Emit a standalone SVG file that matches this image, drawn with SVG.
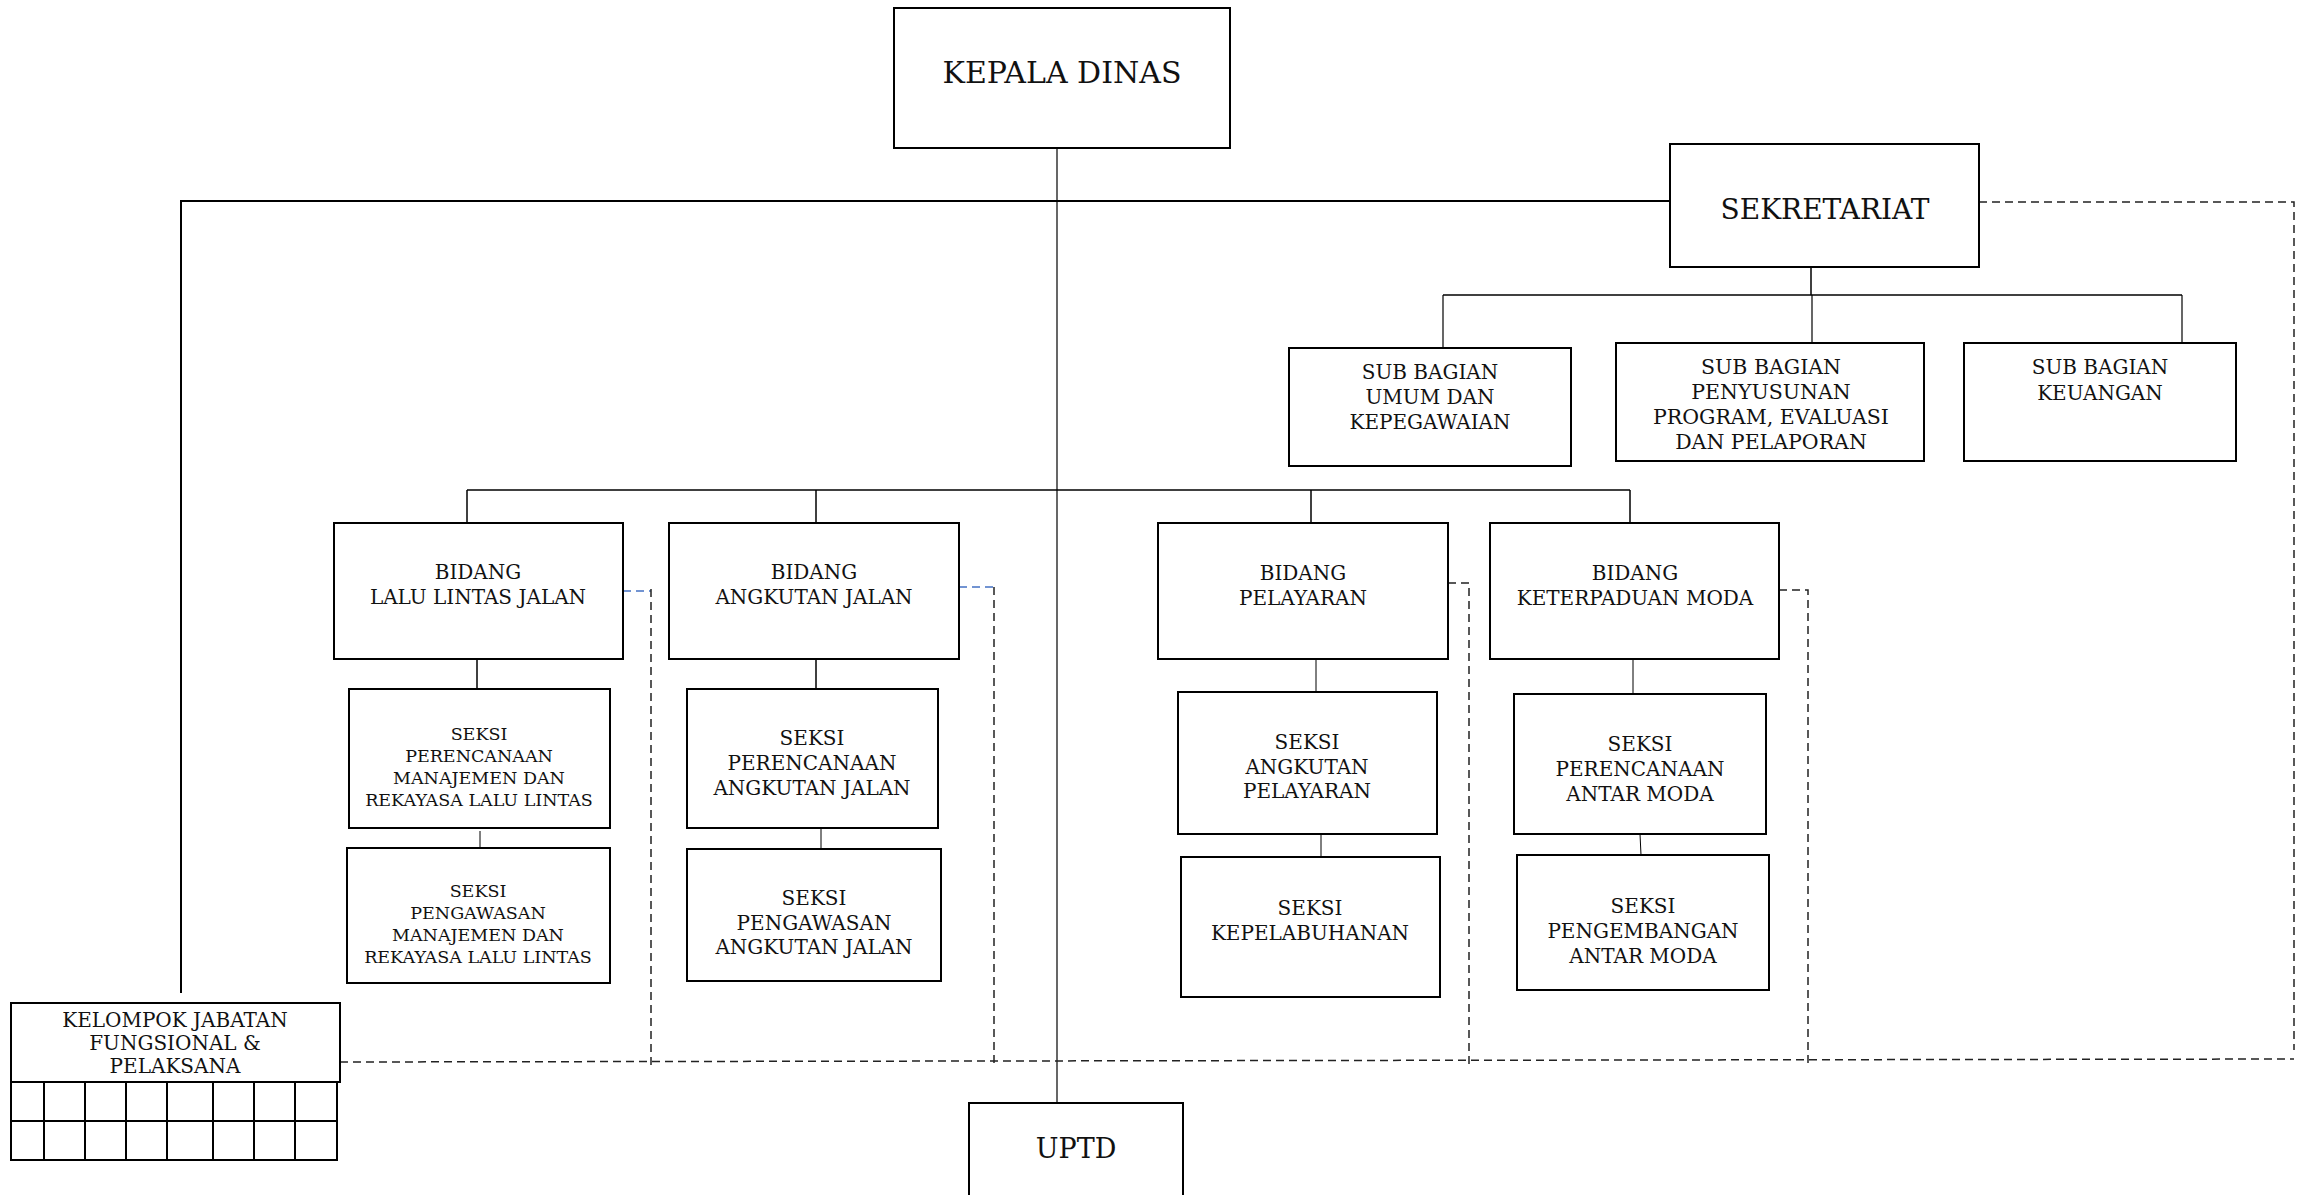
<svg xmlns="http://www.w3.org/2000/svg" width="2305" height="1195" viewBox="0 0 2305 1195">
<style>
.box{fill:#fff;stroke:#000;stroke-width:2}
.t{font-family:"DejaVu Serif","Liberation Serif",serif;fill:#111;text-anchor:middle}
.ln{stroke:#000;fill:none}
.dash{stroke:#222;stroke-width:1.5;fill:none;stroke-dasharray:8 5}
.blue{stroke:#4472C4;stroke-width:1.5;fill:none;stroke-dasharray:8 5}
</style>
<rect width="2305" height="1195" fill="#fff"/>
<g id="connectors">
<line class="ln" x1="1057" y1="147" x2="1057" y2="1103" stroke-width="1.2"/>
<polyline class="ln" points="1670,201 181,201 181,993" stroke-width="2"/>
<line class="ln" x1="1811" y1="267" x2="1811" y2="295" stroke-width="1.5"/>
<line class="ln" x1="1443" y1="295" x2="2182" y2="295" stroke-width="1.5"/>
<line class="ln" x1="1443" y1="295" x2="1443" y2="348" stroke-width="1.2"/>
<line class="ln" x1="1812" y1="295" x2="1812" y2="343" stroke-width="1.2"/>
<line class="ln" x1="2182" y1="295" x2="2182" y2="343" stroke-width="1.2"/>
<line class="ln" x1="467" y1="490" x2="1630" y2="490" stroke-width="1.5"/>
<line class="ln" x1="467" y1="490" x2="467" y2="523" stroke-width="1.5"/>
<line class="ln" x1="816" y1="490" x2="816" y2="523" stroke-width="1.5"/>
<line class="ln" x1="1311" y1="490" x2="1311" y2="523" stroke-width="1.5"/>
<line class="ln" x1="1630" y1="490" x2="1630" y2="523" stroke-width="1.5"/>
<line class="ln" x1="477" y1="659" x2="477" y2="689" stroke-width="1.5"/>
<line class="ln" x1="480" y1="831" x2="480" y2="848" stroke-width="1"/>
<line class="ln" x1="816" y1="659" x2="816" y2="689" stroke-width="1.5"/>
<line class="ln" x1="821" y1="828" x2="821" y2="849" stroke-width="1"/>
<line class="ln" x1="1316" y1="659" x2="1316" y2="692" stroke-width="1"/>
<line class="ln" x1="1321" y1="834" x2="1321" y2="857" stroke-width="1"/>
<line class="ln" x1="1633" y1="659" x2="1633" y2="694" stroke-width="1"/>
<line class="ln" x1="1640" y1="834" x2="1641" y2="855" stroke-width="1"/>
<polyline class="dash" points="1979,202 2294,202 2294,1050"/>
<line class="dash" x1="340" y1="1062" x2="2294" y2="1059"/>
<line class="blue" x1="623" y1="591" x2="651" y2="591"/>
<line class="dash" x1="651" y1="589" x2="651" y2="1068"/>
<line class="blue" x1="959" y1="587" x2="994" y2="587"/>
<line class="dash" x1="994" y1="587" x2="994" y2="1065"/>
<polyline class="dash" points="1448,583 1469,583 1469,1067"/>
<polyline class="dash" points="1779,590 1808,590 1808,1068"/>
</g>
<g id="kepala-dinas">
<rect class="box" x="894" y="8" width="336" height="140"/>
<text class="t" x="1062" y="83" font-size="30">KEPALA DINAS</text>
</g>
<g id="sekretariat">
<rect class="box" x="1670" y="144" width="309" height="123"/>
<text class="t" x="1825" y="219" font-size="28">SEKRETARIAT</text>
</g>
<g id="subbag-umum">
<rect class="box" x="1289" y="348" width="282" height="118"/>
<text class="t" font-size="20"><tspan x="1430" y="379">SUB BAGIAN</tspan><tspan x="1430" y="404">UMUM DAN</tspan><tspan x="1430" y="429">KEPEGAWAIAN</tspan></text>
</g>
<g id="subbag-penyusunan">
<rect class="box" x="1616" y="343" width="308" height="118"/>
<text class="t" font-size="20.5"><tspan x="1771" y="374">SUB BAGIAN</tspan><tspan x="1771" y="399">PENYUSUNAN</tspan><tspan x="1771" y="424">PROGRAM, EVALUASI</tspan><tspan x="1771" y="449">DAN PELAPORAN</tspan></text>
</g>
<g id="subbag-keuangan">
<rect class="box" x="1964" y="343" width="272" height="118"/>
<text class="t" font-size="20"><tspan x="2100" y="374">SUB BAGIAN</tspan><tspan x="2100" y="400">KEUANGAN</tspan></text>
</g>
<g id="bidang-llj">
<rect class="box" x="334" y="523" width="289" height="136"/>
<text class="t" font-size="20"><tspan x="478" y="579">BIDANG</tspan><tspan x="478" y="604">LALU LINTAS JALAN</tspan></text>
</g>
<g id="bidang-aj">
<rect class="box" x="669" y="523" width="290" height="136"/>
<text class="t" font-size="20"><tspan x="814" y="579">BIDANG</tspan><tspan x="814" y="604">ANGKUTAN JALAN</tspan></text>
</g>
<g id="bidang-pelayaran">
<rect class="box" x="1158" y="523" width="290" height="136"/>
<text class="t" font-size="20"><tspan x="1303" y="580">BIDANG</tspan><tspan x="1303" y="605">PELAYARAN</tspan></text>
</g>
<g id="bidang-keterpaduan">
<rect class="box" x="1490" y="523" width="289" height="136"/>
<text class="t" font-size="20"><tspan x="1635" y="580">BIDANG</tspan><tspan x="1635" y="605">KETERPADUAN MODA</tspan></text>
</g>
<g id="seksi-perencanaan-mrll">
<rect class="box" x="349" y="689" width="261" height="139"/>
<text class="t" font-size="17.5"><tspan x="479" y="740">SEKSI</tspan><tspan x="479" y="762">PERENCANAAN</tspan><tspan x="479" y="784">MANAJEMEN DAN</tspan><tspan x="479" y="806">REKAYASA LALU LINTAS</tspan></text>
</g>
<g id="seksi-pengawasan-mrll">
<rect class="box" x="347" y="848" width="263" height="135"/>
<text class="t" font-size="17.5"><tspan x="478" y="897">SEKSI</tspan><tspan x="478" y="919">PENGAWASAN</tspan><tspan x="478" y="941">MANAJEMEN DAN</tspan><tspan x="478" y="963">REKAYASA LALU LINTAS</tspan></text>
</g>
<g id="seksi-perencanaan-aj">
<rect class="box" x="687" y="689" width="251" height="139"/>
<text class="t" font-size="20"><tspan x="812" y="745">SEKSI</tspan><tspan x="812" y="770">PERENCANAAN</tspan><tspan x="812" y="795">ANGKUTAN JALAN</tspan></text>
</g>
<g id="seksi-pengawasan-aj">
<rect class="box" x="687" y="849" width="254" height="132"/>
<text class="t" font-size="20"><tspan x="814" y="905">SEKSI</tspan><tspan x="814" y="930">PENGAWASAN</tspan><tspan x="814" y="954">ANGKUTAN JALAN</tspan></text>
</g>
<g id="seksi-angkutan-pelayaran">
<rect class="box" x="1178" y="692" width="259" height="142"/>
<text class="t" font-size="20"><tspan x="1307" y="749">SEKSI</tspan><tspan x="1307" y="774">ANGKUTAN</tspan><tspan x="1307" y="798">PELAYARAN</tspan></text>
</g>
<g id="seksi-kepelabuhanan">
<rect class="box" x="1181" y="857" width="259" height="140"/>
<text class="t" font-size="20"><tspan x="1310" y="915">SEKSI</tspan><tspan x="1310" y="940">KEPELABUHANAN</tspan></text>
</g>
<g id="seksi-perencanaan-antar-moda">
<rect class="box" x="1514" y="694" width="252" height="140"/>
<text class="t" font-size="20"><tspan x="1640" y="751">SEKSI</tspan><tspan x="1640" y="776">PERENCANAAN</tspan><tspan x="1640" y="801">ANTAR MODA</tspan></text>
</g>
<g id="seksi-pengembangan-antar-moda">
<rect class="box" x="1517" y="855" width="252" height="135"/>
<text class="t" font-size="20"><tspan x="1643" y="913">SEKSI</tspan><tspan x="1643" y="938">PENGEMBANGAN</tspan><tspan x="1643" y="963">ANTAR MODA</tspan></text>
</g>
<g id="kelompok-jabatan">
<rect class="box" x="11" y="1003" width="329" height="79"/>
<text class="t" font-size="20"><tspan x="175" y="1027">KELOMPOK JABATAN</tspan><tspan x="175" y="1050">FUNGSIONAL &amp;</tspan><tspan x="175" y="1073">PELAKSANA</tspan></text>
<g class="ln" stroke-width="2">
<rect x="11" y="1082" width="326" height="78" fill="none"/>
<line x1="11" y1="1121" x2="337" y2="1121"/>
<line x1="44" y1="1082" x2="44" y2="1160"/>
<line x1="85" y1="1082" x2="85" y2="1160"/>
<line x1="126" y1="1082" x2="126" y2="1160"/>
<line x1="167" y1="1082" x2="167" y2="1160"/>
<line x1="213" y1="1082" x2="213" y2="1160"/>
<line x1="254" y1="1082" x2="254" y2="1160"/>
<line x1="295" y1="1082" x2="295" y2="1160"/>
</g>
</g>
<g id="uptd">
<rect class="box" x="969" y="1103" width="214" height="110"/>
<text class="t" x="1076" y="1158" font-size="27">UPTD</text>
</g>
</svg>
